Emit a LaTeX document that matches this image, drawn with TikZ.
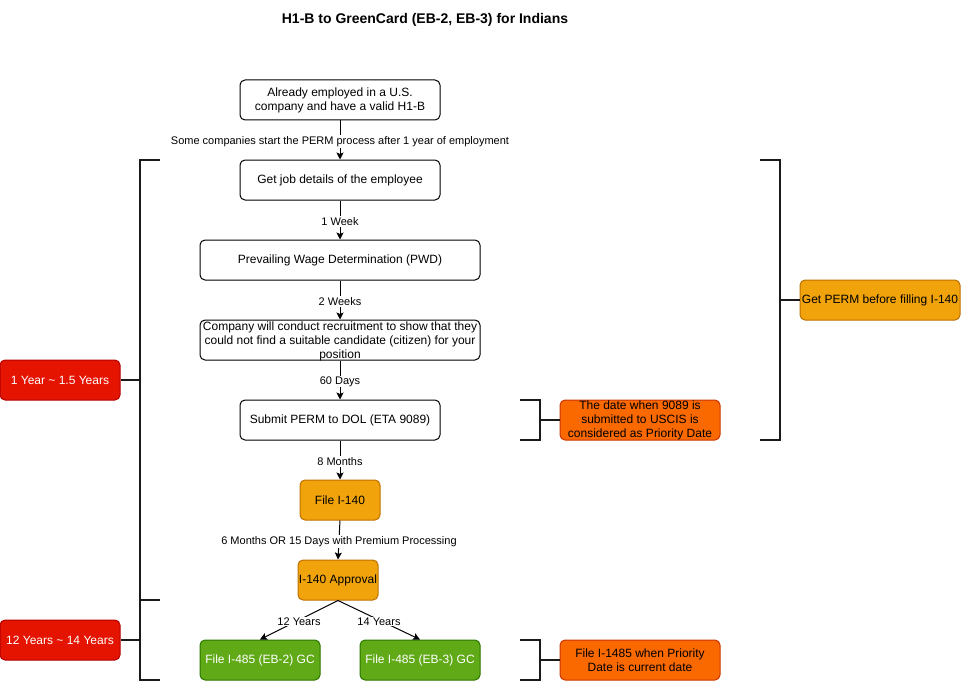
\documentclass[tikz,border=0pt]{standalone}
\usepackage{fontspec}
\setmainfont{Liberation Sans}
\usetikzlibrary{arrows.meta}
\definecolor{orfill}{HTML}{F0A30A}
\definecolor{ordraw}{HTML}{BD7000}
\definecolor{dofill}{HTML}{FA6800}
\definecolor{dodraw}{HTML}{C73500}
\definecolor{redfill}{HTML}{E51400}
\definecolor{reddraw}{HTML}{B20000}
\definecolor{grfill}{HTML}{60A917}
\definecolor{grdraw}{HTML}{2D7600}
\definecolor{brk}{HTML}{1A1A1A}
\tikzset{
  box/.style={draw=black, line width=1pt, rounded corners=5pt, fill=white, minimum height=40pt, inner sep=0pt, align=center, font=\fontsize{12}{14}\selectfont},
  orbox/.style={box, fill=orfill, draw=ordraw},
  dobox/.style={box, fill=dofill, draw=dodraw},
  redbox/.style={box, fill=redfill, draw=reddraw, text=white},
  grbox/.style={box, fill=grfill, draw=grdraw, text=white},
  flow/.style={draw=black, line width=1pt, -{Stealth[length=7pt,width=7pt,inset=1.5pt]}},
  elabel/.style={fill=white, inner sep=1pt, yshift=-1.5pt, font=\fontsize{11}{13}\selectfont},
  bracket/.style={draw=brk, line width=1.6pt},
}
\begin{document}
\begin{tikzpicture}[x=1pt,y=-1pt]
\useasboundingbox (0,0) rectangle (961,682);
\node[font=\bfseries\fontsize{14}{16}\selectfont] (title) at (425,20) {H1-B to GreenCard (EB-2, EB-3) for Indians};

\node[box, minimum width=200pt] (a) at (340,100) {Already employed in a U.S.\\company and have a valid H1-B};
\node[box, minimum width=200pt] (b) at (340,180) {Get job details of the employee};
\node[box, minimum width=280pt] (c) at (340,260) {Prevailing Wage Determination (PWD)};
\node[box, minimum width=280pt] (d) at (340,340) {};
\node[align=center, inner sep=0pt, font=\fontsize{12}{14}\selectfont] (dtext) at (340,341) {Company will conduct recruitment to show that they\\could not find a suitable candidate (citizen) for your\\position};
\node[box, minimum width=200pt] (e) at (340,420) {Submit PERM to DOL (ETA 9089)};
\node[orbox, minimum width=80pt] (f) at (340,500) {File I-140};
\node[orbox, minimum width=80pt] (g) at (338,580) {I-140 Approval};
\node[grbox, minimum width=120pt] (h) at (260,660) {File I-485 (EB-2) GC};
\node[grbox, minimum width=120pt] (i) at (420,660) {File I-485 (EB-3) GC};

\draw[flow] (a) -- node[elabel] {Some companies start the PERM process after 1 year of employment} (b);
\draw[flow] (b) -- node[elabel] {1 Week} (c);
\draw[flow] (c) -- node[elabel] {2 Weeks} (d);
\draw[flow] (d) -- node[elabel] {60 Days} (e);
\draw[flow] (e) -- node[elabel] {8 Months} (f);
\draw[flow] (f.south) -- node[elabel] {6 Months OR 15 Days with Premium Processing} (g.north);
\draw[flow] (g.south) -- node[elabel] {12 Years} (h.north);
\draw[flow] (g.south) -- node[elabel] {14 Years} (i.north);

% side boxes
\node[redbox, minimum width=120pt] (r1) at (60,380) {1 Year \textasciitilde{} 1.5 Years};
\node[redbox, minimum width=120pt] (r2) at (60,640) {12 Years \textasciitilde{} 14 Years};
\node[orbox, minimum width=160pt] (p) at (880,300) {Get PERM before filling I-140};
\node[dobox, minimum width=160pt] (q) at (640,420) {The date when 9089 is\\submitted to USCIS is\\considered as Priority Date};
\node[dobox, minimum width=160pt] (s) at (640,660) {File I-1485 when Priority\\Date is current date};

% brackets
\coordinate (bl1) at (140,380);
\coordinate (bl2) at (140,640);
\coordinate (br1) at (780,300);
\coordinate (br2) at (540,420);
\coordinate (br3) at (540,660);
\draw[bracket] (160,160) -- (140,160) -- (140,600) -- (160,600);
\draw[bracket] (160,600) -- (140,600) -- (140,680) -- (160,680);
\draw[bracket] (760,160) -- (780,160) -- (780,440) -- (760,440);
\draw[bracket] (520,400) -- (540,400) -- (540,440) -- (520,440);
\draw[bracket] (520,640) -- (540,640) -- (540,680) -- (520,680);
\draw[bracket] (bl1) -- (r1.east);
\draw[bracket] (bl2) -- (r2.east);
\draw[bracket] (br1) -- (p.west);
\draw[bracket] (br2) -- (q.west);
\draw[bracket] (br3) -- (s.west);
\end{tikzpicture}
\end{document}
